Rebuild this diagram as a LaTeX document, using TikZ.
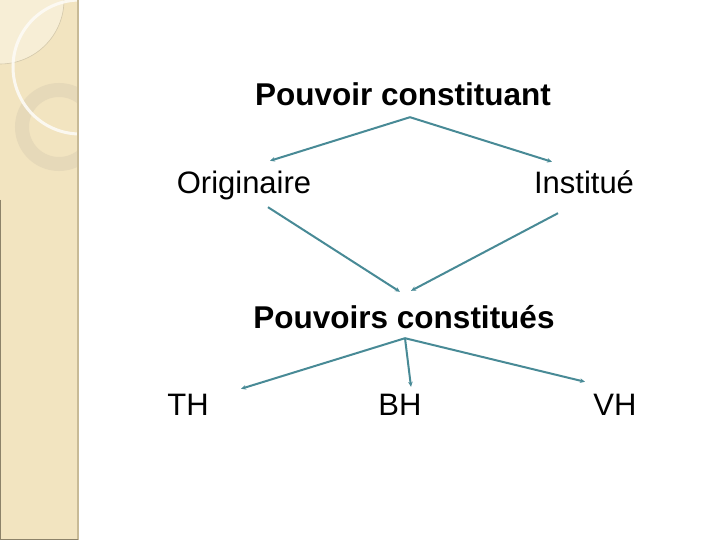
\documentclass[tikz,border=0pt]{standalone}
\usepackage{fontspec}
\setmainfont{Liberation Sans}
\usetikzlibrary{arrows.meta}

\definecolor{linkteal}{RGB}{72,138,150}
\definecolor{stripbeige}{RGB}{242,228,192}
\definecolor{stripedge}{RGB}{200,186,150}
\definecolor{ringbeige}{RGB}{230,217,185}
\definecolor{discbeige}{RGB}{247,238,214}

\tikzset{
  title/.style={inner sep=0pt, anchor=base, text height=22pt, text depth=6pt,
    font=\fontsize{31.5}{36}\selectfont\bfseries},
  term/.style={inner sep=0pt, anchor=base, text height=22pt, text depth=6pt,
    font=\fontsize{31}{36}\selectfont},
  link/.style={draw=linkteal, line width=2pt, -{Stealth[length=5pt,width=4.5pt]}}
}

\begin{document}
\begin{tikzpicture}[x=1pt,y=-1pt]
  % Page and left strip
  \fill[white] (0,0) rectangle (720,540);
  \useasboundingbox (0,0) rectangle (720,540);
  \fill[stripbeige] (0,0) rectangle (78,540);
  \begin{scope}
    \clip (0,0) rectangle (77,540);
    \fill[discbeige] (0,0) circle (64);
    \draw[stripedge!80, line width=0.6pt] (0,0) circle (64);
    \draw[ringbeige, line width=14pt] (59,127) circle (37);
    \draw[white!85!stripbeige, line width=3pt, opacity=0.9] (80,67) circle (67);
  \end{scope}
  \draw[stripedge, line width=2pt] (78,0) -- (78,540);
  \draw[stripedge!70!black, line width=1pt] (0.5,200) -- (0.5,539.5) -- (78,539.5);

  % Labels
  \node[title] (pc) at (403,106) {Pouvoir constituant};
  \node[term] (orig) at (244,194) {Originaire};
  \node[term] (inst) at (584,194) {Institué};
  \node[title] (pcs) at (404,328) {Pouvoirs constitués};
  \node[term] (th) at (188,415) {TH};
  \node[term] (bh) at (400,415) {BH};
  \node[term] (vh) at (615,415) {VH};

  % Connectors
  \draw[link] ([xshift=7pt,yshift=-5pt]pc.south) -- ([xshift=26pt,yshift=11pt]orig.north);
  \draw[link] ([xshift=7pt,yshift=-5pt]pc.south) -- ([xshift=-32pt,yshift=10pt]inst.north);
  \draw[link] ([xshift=24pt,yshift=-7pt]orig.south) -- ([xshift=-4pt,yshift=14pt]pcs.north);
  \draw[link] ([xshift=-26pt,yshift=-13pt]inst.south) -- ([xshift=7pt,yshift=15pt]pcs.north);
  \draw[link] ([xshift=1pt,yshift=-4pt]pcs.south) -- ([xshift=53pt,yshift=4pt]th.north);
  \draw[link] ([xshift=1pt,yshift=-4pt]pcs.south) -- ([xshift=11pt,yshift=6pt]bh.north);
  \draw[link] ([xshift=1pt,yshift=-4pt]pcs.south) -- ([xshift=-30pt,yshift=11pt]vh.north);
\end{tikzpicture}
\end{document}
